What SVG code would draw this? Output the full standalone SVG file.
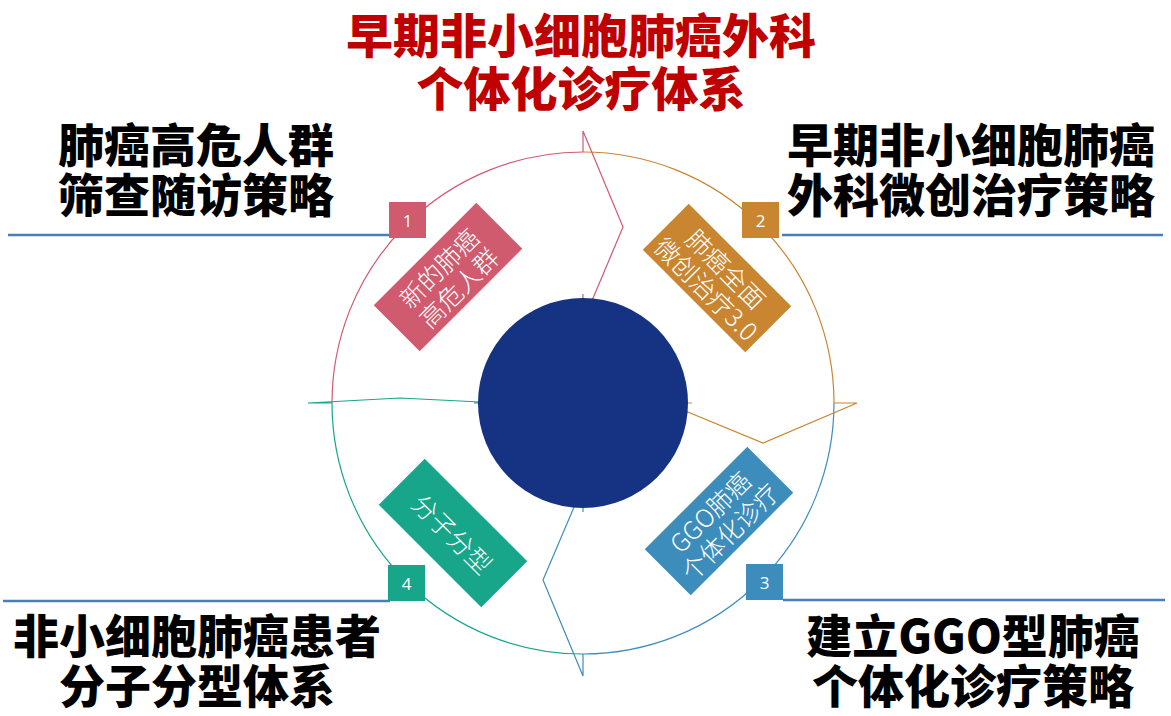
<svg xmlns="http://www.w3.org/2000/svg" width="1171" height="716" viewBox="0 0 1171 716">
<style>
.big{font-family:"Noto Sans CJK SC","Liberation Sans",sans-serif;font-weight:900;font-size:46px;text-anchor:middle}
.title{fill:#C00000;font-size:47px}
.hd{fill:#000}
.rule{stroke:#4A7EBB;stroke-width:2.5;fill:none}
.arc{fill:none;stroke-width:1.2}
.num{font-family:"Open Sans","Liberation Sans",sans-serif;font-size:17px;fill:#fff;text-anchor:middle;dominant-baseline:central}
.lbl{font-family:"Noto Sans CJK SC","Noto Sans",sans-serif;font-weight:300;font-size:25px;fill:#fff;text-anchor:middle;dominant-baseline:central}
.pink{stroke:#D05A6E}.pinkf{fill:#D05A6E}
.orange{stroke:#C98530}.orangef{fill:#C98530}
.blue{stroke:#3C8DBB}.bluef{fill:#3C8DBB}
.teal{stroke:#17A689}.tealf{fill:#17A689}
</style>
<rect width="1171" height="716" fill="#fff"/>

<g id="title">
<text class="big title" x="581" y="53">早期非小细胞肺癌外科</text>
<text class="big title" x="581" y="106">个体化诊疗体系</text>
</g>

<g id="rules">
<line class="rule" x1="8" y1="235" x2="390" y2="235"/>
<line class="rule" x1="782" y1="235" x2="1163" y2="235"/>
<line class="rule" x1="3" y1="601" x2="390" y2="601"/>
<line class="rule" x1="783" y1="600" x2="1165" y2="600"/>
</g>

<g id="connectors">
<path class="arc pink" d="M332,403 A251,251 0 0 1 583,152"/>
<path class="arc orange" d="M583,152 A251,251 0 0 1 834,403"/>
<path class="arc blue" d="M834,403 A251,251 0 0 1 583,654"/>
<path class="arc teal" d="M583,654 A251,251 0 0 1 332,403"/>
<polyline class="arc pink" points="583,152 583,131 623,227 583,322 583,294"/>
<polyline class="arc orange" points="834,403 857,403 763,443 666,403 692,403"/>
<polyline class="arc blue" points="583,654 583,676 543,580 583,486 583,512"/>
<polyline class="arc teal" points="332,403 308,403 400,398 500,403 474,403"/>
</g>

<g id="hub">
<circle cx="583" cy="403" r="105" fill="#163282"/>
</g>

<g id="n1">
<text class="big hd" x="196" y="162">肺癌高危人群</text>
<text class="big hd" x="196" y="212">筛查随访策略</text>
<rect class="pinkf" x="389" y="202" width="37" height="36"/>
<text class="num" x="407.5" y="220">1</text>
<g transform="translate(448,277) rotate(-45)">
<rect class="pinkf" x="-72.5" y="-32.5" width="145" height="65"/>
<text class="lbl" x="0" y="-14">新的肺癌</text>
<text class="lbl" x="0" y="14">高危人群</text>
</g>
</g>

<g id="n2">
<text class="big hd" x="971" y="162">早期非小细胞肺癌</text>
<text class="big hd" x="971" y="212">外科微创治疗策略</text>
<rect class="orangef" x="742" y="202" width="37" height="36"/>
<text class="num" x="760.5" y="220">2</text>
<g transform="translate(717,278) rotate(45)">
<rect class="orangef" x="-72.5" y="-32.5" width="145" height="65"/>
<text class="lbl" x="0" y="-14">肺癌全面</text>
<text class="lbl" x="0" y="14">微创治疗3.0</text>
</g>
</g>

<g id="n3">
<text class="big hd" x="973" y="653">建立GGO型肺癌</text>
<text class="big hd" x="973" y="703">个体化诊疗策略</text>
<rect class="bluef" x="746" y="564" width="37" height="36"/>
<text class="num" x="764.5" y="582">3</text>
<g transform="translate(719,521) rotate(-45)">
<rect class="bluef" x="-72.5" y="-32.5" width="145" height="65"/>
<text class="lbl" x="0" y="-14">GGO肺癌</text>
<text class="lbl" x="0" y="14">个体化诊疗</text>
</g>
</g>

<g id="n4">
<text class="big hd" x="197" y="653">非小细胞肺癌患者</text>
<text class="big hd" x="197" y="703">分子分型体系</text>
<rect class="tealf" x="388" y="565" width="37" height="36"/>
<text class="num" x="406.5" y="583">4</text>
<g transform="translate(453,533) rotate(45)">
<rect class="tealf" x="-72.5" y="-32.5" width="145" height="65"/>
<text class="lbl" x="0" y="0">分子分型</text>
</g>
</g>
</svg>
